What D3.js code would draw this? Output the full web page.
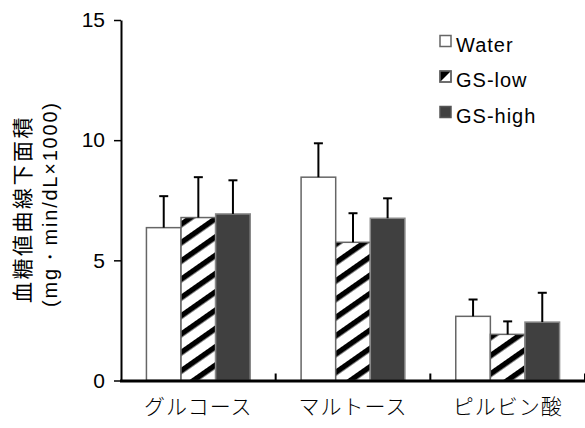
<!DOCTYPE html>
<html><head><meta charset="utf-8">
<script src="https://cdn.jsdelivr.net/npm/d3@7"></script>
<style>body{margin:0;background:#fff}svg{display:block}</style>
</head><body>
<script>
const categories = ["グルコース", "マルトース", "ピルビン酸"];
const seriesNames = ["Water", "GS-low", "GS-high"];
const water = [6.36, 8.46, 2.67];
const waterErr = [1.31, 1.41, 0.70];
const gsLow = [6.78, 5.75, 1.92];
const gsLowErr = [1.68, 1.21, 0.54];
const gsHigh = [6.93, 6.75, 2.43];
const gsHighErr = [1.40, 0.83, 1.22];
const yTicks = [0, 5, 10, 15];
const yLabel1 = "血糖値曲線下面積";
const yLabel2 = "(mg・min/dL×1000)";

const W = 585, H = 428;
const svg = d3.select("body").append("svg").attr("width", W).attr("height", H);
const defs = svg.append("defs");
const pat = defs.append("pattern").attr("id", "hatch").attr("patternUnits", "userSpaceOnUse")
  .attr("width", 15).attr("height", 15).attr("patternTransform", "rotate(55)");
pat.append("rect").attr("width", 15).attr("height", 15).attr("fill", "#fff");
pat.append("rect").attr("x", 0).attr("width", 5.5).attr("height", 15).attr("fill", "#000");

const x = d3.scaleBand().domain(categories).range([121, 585]).paddingInner(0).paddingOuter(0);
const xs = d3.scaleBand().domain(seriesNames).range([0, x.bandwidth()]).paddingInner(0).paddingOuter(0.735);
const y = d3.scaleLinear().domain([0, 15]).range([380.5, 20]);

const data = [
  {name: "Water", vals: water, errs: waterErr, fill: "#fff", stroke: "#666"},
  {name: "GS-low", vals: gsLow, errs: gsLowErr, fill: "url(#hatch)", stroke: "#666"},
  {name: "GS-high", vals: gsHigh, errs: gsHighErr, fill: "#404040", stroke: "#888"}
];

const g = svg.append("g");
data.forEach(s => {
  categories.forEach((c, i) => {
    const x0 = x(c) + xs(s.name);
    const bw = xs.bandwidth();
    g.append("rect").attr("x", x0).attr("y", y(s.vals[i]))
      .attr("width", bw).attr("height", y(0) - y(s.vals[i]))
      .attr("fill", s.fill).attr("stroke", s.stroke).attr("stroke-width", 1.5);
    const cx = x0 + bw / 2;
    const top = y(s.vals[i] + s.errs[i]);
    g.append("line").attr("x1", cx).attr("x2", cx).attr("y1", y(s.vals[i])).attr("y2", top)
      .attr("stroke", "#000").attr("stroke-width", 2);
    g.append("line").attr("x1", cx - 4.5).attr("x2", cx + 4.5).attr("y1", top).attr("y2", top)
      .attr("stroke", "#000").attr("stroke-width", 2);
  });
});

// y axis
const ya = svg.append("g").attr("transform", "translate(121,0)")
  .call(d3.axisLeft(y).tickValues(yTicks).tickSize(7).tickSizeOuter(0).tickPadding(9));
ya.select(".domain").attr("stroke", "#000").attr("stroke-width", 2);
ya.selectAll(".tick line").attr("stroke", "#000").attr("stroke-width", 1.5);
ya.selectAll(".tick text").attr("font-family", "Liberation Sans, Arial, sans-serif")
  .attr("font-size", 21).attr("fill", "#000");

// x axis
const xa = svg.append("g");
xa.append("line").attr("x1", 120).attr("x2", 585).attr("y1", y(0) + 0.5).attr("y2", y(0) + 0.5)
  .attr("stroke", "#000").attr("stroke-width", 3);
categories.forEach((c, i) => {
  const bx = x(c) + x.bandwidth();
  xa.append("line").attr("x1", bx).attr("x2", bx).attr("y1", y(0)).attr("y2", y(0) - 7)
    .attr("stroke", "#000").attr("stroke-width", 2);
  xa.append("text").attr("x", x(c) + x.bandwidth() / 2).attr("y", 414)
    .attr("text-anchor", "middle").attr("font-family", "Noto Sans CJK JP")
    .attr("font-size", 21).attr("font-weight", 300).attr("letter-spacing", 1).text(c);
});

// y label
svg.append("text").attr("transform", "translate(30,209) rotate(-90)")
  .attr("text-anchor", "middle").attr("font-family", "Noto Sans CJK JP")
  .attr("font-size", 21).attr("letter-spacing", 2.5).text(yLabel1);
svg.append("text").attr("transform", "translate(57,205) rotate(-90)")
  .attr("text-anchor", "middle").attr("font-family", "Liberation Sans, Arial, sans-serif")
  .attr("font-size", 20).attr("textLength", 204).attr("lengthAdjust", "spacing").text(yLabel2);

// legend
const lg = svg.append("g");
const lfill = ["#fff", null, "#404040"];
seriesNames.forEach((n, i) => {
  const ly = 35.5 + i * 35.5;
  if (i === 1) {
    lg.append("rect").attr("x", 440).attr("y", ly).attr("width", 11).attr("height", 11)
      .attr("fill", "#fff").attr("stroke", "#666").attr("stroke-width", 1.5);
    lg.append("path").attr("d", `M${440},${ly} L${451},${ly} L${440},${ly + 11} Z`).attr("fill", "#000");
    lg.append("rect").attr("x", 440).attr("y", ly).attr("width", 11).attr("height", 11)
      .attr("fill", "none").attr("stroke", "#666").attr("stroke-width", 1.5);
  } else {
    lg.append("rect").attr("x", 440).attr("y", ly).attr("width", 11).attr("height", 11)
      .attr("fill", lfill[i]).attr("stroke", i === 0 ? "#666" : "#555").attr("stroke-width", 1.5);
  }
  lg.append("text").attr("x", 456).attr("y", ly + 16).attr("font-family", "Liberation Sans, Arial, sans-serif")
    .attr("font-size", 20).attr("letter-spacing", 1).text(n);
});
</script>
</body></html>
